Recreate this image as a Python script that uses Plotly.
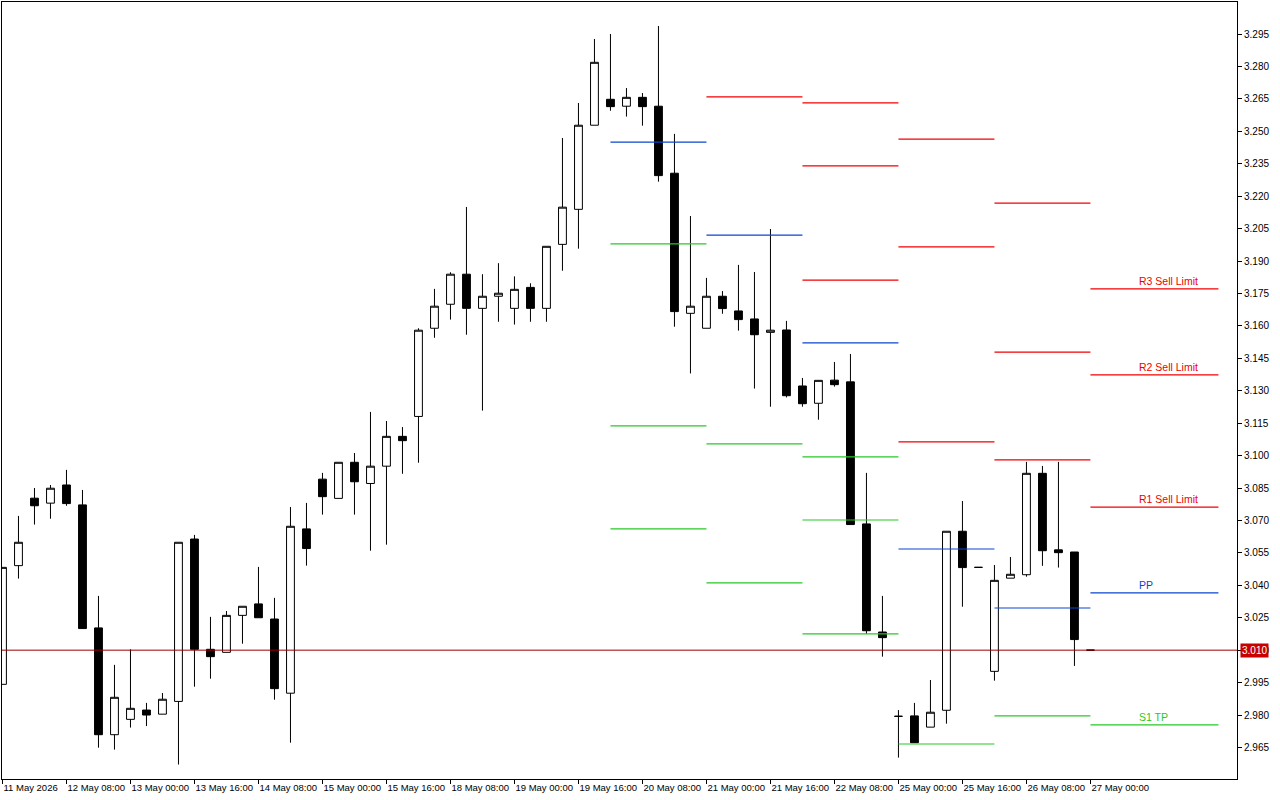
import plotly.graph_objects as go

# ---------------- data ----------------
time_labels = ["11 May 2026", "12 May 08:00", "13 May 00:00", "13 May 16:00", "14 May 08:00",
               "15 May 00:00", "15 May 16:00", "18 May 08:00", "19 May 00:00", "19 May 16:00",
               "20 May 08:00", "21 May 00:00", "21 May 16:00", "22 May 08:00", "25 May 00:00",
               "25 May 16:00", "26 May 08:00", "27 May 00:00"]

open_ = [2.9942, 3.0491, 3.0803, 3.0780, 3.0864, 3.0772, 3.0203, 2.9709, 2.9780, 2.9823,
         2.9804, 2.9863, 3.0614, 3.0104, 3.0090, 3.0261, 3.0314, 3.0244, 2.9901, 3.0661,
         3.0891, 3.0802, 3.0969, 3.0871, 3.0951, 3.1089, 3.1181, 3.1589, 3.1700, 3.1839,
         3.1681, 3.1737, 3.1681, 3.1778, 3.1681, 3.1977, 3.2139, 3.2528, 3.2648, 3.2616,
         3.2657, 3.2616, 3.2306, 3.1658, 3.1589, 3.1737, 3.1669, 3.1632, 3.1570, 3.1581,
         3.1322, 3.1242, 3.1349, 3.1341, 3.0684, 3.0184, 2.9794, 2.9796, 2.9744, 2.9822,
         3.0650, 3.0483, 3.0002, 3.0433, 3.0449, 3.0918, 3.0564, 3.0554, 3.0100]
high = [3.0483, 3.0721, 3.0850, 3.0864, 3.0934, 3.0841, 3.0351, 3.0032, 3.0104, 2.9856,
        2.9902, 3.0599, 3.0633, 3.0254, 3.0281, 3.0303, 3.0485, 3.0342, 3.0762, 3.0781,
        3.0920, 3.0969, 3.1012, 3.1202, 3.1160, 3.1132, 3.1589, 3.1771, 3.1848, 3.2150,
        3.1839, 3.1890, 3.1829, 3.1797, 3.1968, 3.2469, 3.2631, 3.2927, 3.2950, 3.2700,
        3.2677, 3.2987, 3.2488, 3.2108, 3.1822, 3.1761, 3.1882, 3.1849, 3.2048, 3.1623,
        3.1359, 3.1348, 3.1433, 3.1470, 3.0920, 3.0351, 2.9823, 2.9856, 2.9962, 3.0650,
        3.0790, 3.0483, 3.0494, 3.0531, 3.0971, 3.0952, 3.0971, 3.0554, 3.0100]
low = [2.9942, 3.0431, 3.0681, 3.0708, 3.0768, 3.0200, 2.9649, 2.9640, 2.9742, 2.9749,
       2.9804, 2.9571, 2.9931, 2.9968, 3.0090, 3.0130, 3.0250, 2.9871, 2.9672, 3.0491,
       3.0727, 3.0802, 3.0727, 3.0560, 3.0588, 3.0916, 3.0967, 3.1545, 3.1629, 3.1559,
       3.1208, 3.1619, 3.1606, 3.1619, 3.1619, 3.1855, 3.1957, 3.2528, 3.2595, 3.2568,
       3.2526, 3.2267, 3.1596, 3.1380, 3.1589, 3.1656, 3.1578, 3.1310, 3.1226, 3.1269,
       3.1226, 3.1166, 3.1319, 3.0681, 3.0175, 3.0070, 2.9603, 2.9672, 2.9744, 2.9760,
       3.0301, 3.0483, 2.9959, 3.0433, 3.0440, 3.0490, 3.0482, 3.0027, 3.0100]
close = [3.0483, 3.0599, 3.0768, 3.0849, 3.0778, 3.0200, 2.9709, 2.9882, 2.9831, 2.9800,
         2.9873, 3.0599, 3.0104, 3.0070, 3.0261, 3.0303, 3.0250, 2.9922, 3.0673, 3.0570,
         3.0810, 3.0969, 3.0879, 3.0951, 3.1089, 3.1069, 3.1580, 3.1691, 3.1839, 3.1681,
         3.1737, 3.1751, 3.1769, 3.1681, 3.1968, 3.2149, 3.2528, 3.2819, 3.2614, 3.2657,
         3.2614, 3.2295, 3.1666, 3.1691, 3.1737, 3.1680, 3.1629, 3.1559, 3.1580, 3.1277,
         3.1240, 3.1348, 3.1328, 3.0681, 3.0190, 3.0158, 2.9794, 2.9672, 2.9813, 3.0650,
         3.0482, 3.0483, 3.0423, 3.0451, 3.0918, 3.0560, 3.0551, 3.0149, 3.0100]
bars = list(range(len(close)))

# daily pivot levels (bar index where each day starts / ends)
day_start = [38, 44, 50, 56, 62, 68]
day_end = [44, 50, 56, 62, 68, 76]
R3 = [None, None, 3.2631, 3.2464, 3.2168, 3.1771]
R2 = [None, None, 3.2340, 3.1965, 3.1479, 3.1373]
R1 = [None, 3.2659, 3.1812, 3.1063, 3.0980, 3.0762]
PP = [3.2450, 3.2020, 3.1521, 3.0568, 3.0295, 3.0365]
S1 = [3.1979, 3.1054, 3.0994, 2.9666, 2.9796, 2.9754]
S2 = [3.1137, 3.0411, 3.0702, None, None, None]
S3 = [3.0661, None, 3.0175, None, None, None]

level_names = ["R3 Sell Limit", "R2 Sell Limit", "R1 Sell Limit", "PP", "S1 TP"]
current_price = 3.010

y_ticks = [2.965, 2.980, 2.995, 3.010, 3.025, 3.040, 3.055, 3.070, 3.085, 3.100, 3.115,
           3.130, 3.145, 3.160, 3.175, 3.190, 3.205, 3.220, 3.235, 3.250, 3.265, 3.280, 3.295]

RED = "#F00000"
BLUE = "#0A46CC"
GREEN = "#28C828"
FONT = "Liberation Sans"

fig = go.Figure()
fig.add_trace(go.Candlestick(
    x=bars, open=open_, high=high, low=low, close=close,
    increasing=dict(line=dict(color="black", width=1), fillcolor="white"),
    decreasing=dict(line=dict(color="black", width=1), fillcolor="black"),
    whiskerwidth=0, showlegend=False, hoverinfo="skip"))


def segments(*level_lists):
    xs, ys = [], []
    for levels in level_lists:
        for s, e, v in zip(day_start, day_end, levels):
            if v is None:
                continue
            xs += [s, e, None]
            ys += [v, v, None]
    return xs, ys


for lists, col in [((R3, R2, R1), RED), ((PP,), BLUE), ((S1, S2, S3), GREEN)]:
    xs, ys = segments(*lists)
    fig.add_trace(go.Scatter(x=xs, y=ys, mode="lines", line=dict(color=col, width=1.2),
                             showlegend=False, hoverinfo="skip"))

# labels on the last day
label_x = day_start[-1] + 3
for name, val, col in zip(level_names, [R3[-1], R2[-1], R1[-1], PP[-1], S1[-1]],
                          [RED, RED, RED, BLUE, GREEN]):
    fig.add_annotation(x=label_x, y=val, text=name, showarrow=False, xanchor="left",
                       yanchor="bottom", font=dict(family=FONT, size=10.5, color=col),
                       borderpad=0, yshift=1)

# current price line and tag
fig.add_shape(type="line", xref="paper", x0=0, x1=1, y0=current_price, y1=current_price,
              line=dict(color="#9A0000", width=1), layer="above")
fig.add_annotation(xref="paper", x=1, y=current_price, text=f"{current_price:.3f}",
                   showarrow=False, xanchor="left", xshift=3, bgcolor="#C80000",
                   font=dict(family=FONT, size=10, color="white"), borderpad=1)

fig.update_layout(
    width=1280, height=800,
    margin=dict(l=2, r=43, t=2, b=21, autoexpand=False),
    paper_bgcolor="white", plot_bgcolor="white",
    font=dict(family=FONT, size=10, color="black"),
    showlegend=False,
    xaxis=dict(range=[-0.03, 77.16], tickvals=[4 * k for k in range(len(time_labels))],
               ticktext=time_labels, ticks="outside", ticklen=4, tickcolor="black",
               showline=True, mirror=True, linecolor="black", linewidth=1,
               showgrid=False, zeroline=False, rangeslider=dict(visible=False),
               ticklabelposition="outside right", tickangle=0, automargin=False,
               tickfont=dict(size=9.5)),
    yaxis=dict(range=[2.95041, 3.3098], side="right", tickvals=y_ticks, tickformat=".3f",
               ticks="outside", ticklen=4, tickcolor="black", showline=True, mirror=True,
               linecolor="black", linewidth=1, showgrid=False, zeroline=False,
               automargin=False, tickfont=dict(size=10)),
)

fig.write_html("out.html")
